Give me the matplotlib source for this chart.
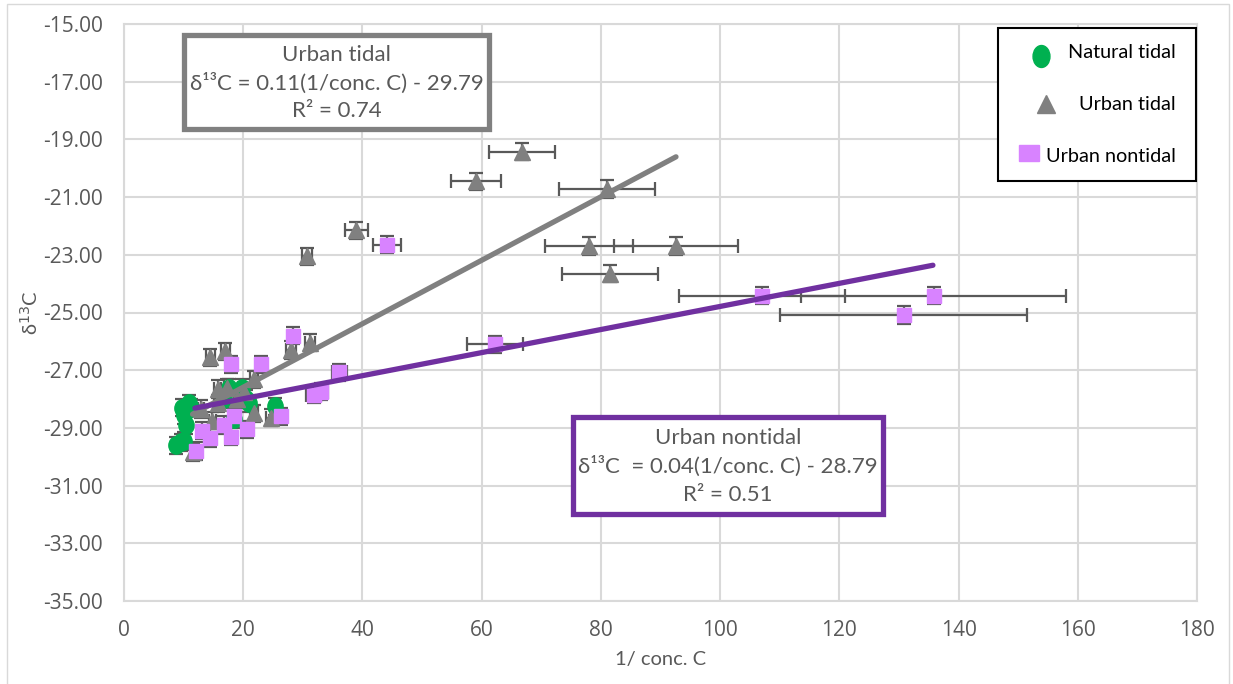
import matplotlib
matplotlib.use("Agg")
import matplotlib.pyplot as plt
from matplotlib.markers import MarkerStyle
from matplotlib.patches import Rectangle
from matplotlib.transforms import Affine2D


##### DATA #####

# Natural tidal marshes
natural_x    = [8.7, 10.1, 9.5, 9.8, 10.1, 10.9, 10.4, 11.2, 17.6, 19.8, 20.4, 20.9, 16.8, 25.4, 18.4]
natural_y    = [-29.6, -29.45, -29.5, -28.3, -28.55, -28.15, -28.9, -28.3,
                -27.6, -27.6, -28.0, -28.15, -28.0, -28.25, -28.7]
natural_xerr = [0.5, 0.5, 0.5, 0.5, 0.5, 0.5, 0.5, 0.5, 0.6, 0.6, 0.6, 0.6, 0.6, 0.7, 0.6]
natural_yerr = [0.3] * len(natural_x)

# Urban tidal marshes
urbtidal_x    = [14.5, 17.0, 28.0, 31.2, 30.7, 39.0, 59.0, 66.8, 81.0, 78.0, 92.6, 81.5,
                 21.8, 15.7, 17.3, 20.1, 21.8, 24.6, 14.8, 11.5, 15.7, 12.9, 19.0]
urbtidal_y    = [-26.55, -26.35, -26.3, -26.05, -23.05, -22.15, -20.45, -19.43, -20.72,
                 -22.7, -22.7, -23.65, -27.32, -27.65, -27.6, -27.75, -28.5, -28.65,
                 -28.75, -29.85, -28.15, -28.35, -28.0]
urbtidal_xerr = [0.8, 0.8, 0.8, 0.8, 0.8, 1.9, 4.2, 5.5, 8.0, 7.4, 10.4, 8.0,
                 0.7, 0.6, 0.6, 0.7, 0.7, 0.8, 0.6, 0.5, 0.6, 0.5, 0.6]
urbtidal_yerr = [0.3] * len(urbtidal_x)

# Urban nontidal marshes
urbnon_x    = [12.0, 13.1, 14.5, 16.8, 17.9, 18.4, 20.7, 26.3, 17.9, 22.9, 28.4,
               31.8, 33.0, 36.1, 44.1, 62.2, 107.0, 130.8, 135.8]
urbnon_y    = [-29.8, -29.1, -29.35, -28.9, -29.3, -28.6, -29.05, -28.6, -26.8, -26.8,
               -25.8, -27.85, -27.75, -27.07, -22.65, -26.1, -24.42, -25.09, -24.42]
urbnon_xerr = [0.6, 0.6, 0.6, 0.6, 0.7, 0.7, 0.8, 0.8, 0.7, 0.8, 0.8,
               1.2, 1.2, 1.25, 2.4, 4.65, 13.9, 20.7, 22.3]
urbnon_yerr = [0.3] * len(urbnon_x)

# Linear trendlines (slope, intercept, fitted x-range)
tidal_fit    = (0.11, -29.79, 11.5, 92.6)
nontidal_fit = (0.04, -28.79, 11.9, 135.7)

x_ticks = list(range(0, 181, 20))
y_ticks = [-35 + 2 * i for i in range(11)]
x_tick_labels = [str(v) for v in x_ticks]
y_tick_labels = [f"{v:.2f}" for v in y_ticks]


##### STYLE #####

W, H = 1233, 684
plt.rcParams['font.family'] = ['Lato', 'DejaVu Sans']
TICK_FONT = ['Open Sans', 'DejaVu Sans']

GREEN  = "#00b050"
GRAY   = "#808080"
PINK   = "#d883ff"
PURPLE = "#7030a0"
ERR    = "#595959"
TXT    = "#595959"
GRID   = "#d9d9d9"


def fx(px):
    return px / W


def fy(py):
    return 1 - py / H


fig = plt.figure(figsize=(W / 100, H / 100), dpi=100)
ax = fig.add_axes([fx(124), fy(601), fx(1197) - fx(124), fy(24) - fy(601)])

ax.set_xlim(0, 180)
ax.set_ylim(-35, -15)
ax.set_xticks(x_ticks, labels=x_tick_labels, fontfamily=TICK_FONT, fontsize=15)
ax.set_yticks(y_ticks, labels=y_tick_labels, fontfamily=TICK_FONT, fontsize=15)
ax.tick_params(axis="y", length=0, colors=TXT, pad=15)
ax.tick_params(axis="x", length=0, colors=TXT, pad=14)
ax.grid(True, color=GRID, lw=1.5)
ax.set_axisbelow(True)
for side, sp in ax.spines.items():
    sp.set_color(GRID)
    sp.set_linewidth(1.5)

ax.set_xlabel("1/ conc. C", fontsize=14.5, color=TXT)
ax.set_ylabel("δ$^{13}$C", fontsize=14.5, color=TXT)
ax.xaxis.set_label_coords(0.5, -0.087)
ax.yaxis.set_label_coords(-0.078, 0.5)

ellipse = MarkerStyle("o", transform=Affine2D().scale(0.88, 1.0))

err_kw = dict(ecolor=ERR, elinewidth=1.6, capsize=5, capthick=1.6, ls="none")

ax.errorbar(natural_x, natural_y, xerr=natural_xerr, yerr=natural_yerr,
            marker=ellipse, ms=12.5, mfc=GREEN, mec=GREEN, zorder=3, **err_kw)
ax.errorbar(urbtidal_x, urbtidal_y, xerr=urbtidal_xerr, yerr=urbtidal_yerr,
            marker="^", ms=11, mfc=GRAY, mec=GRAY, zorder=3, **err_kw)
ax.errorbar(urbnon_x, urbnon_y, xerr=urbnon_xerr, yerr=urbnon_yerr,
            marker="s", ms=10.5, mfc=PINK, mec=PINK, zorder=3, **err_kw)

# trendlines
for (m, b, x0, x1), col in [(tidal_fit, GRAY), (nontidal_fit, PURPLE)]:
    ax.plot([x0, x1], [m * x0 + b, m * x1 + b], color=col, lw=3.8,
            solid_capstyle="round", zorder=4)


##### EQUATION BOXES #####

def eq_box(x0, y0, x1, y1, col, lines, ys):
    fig.add_artist(Rectangle((fx(x0), fy(y1)), fx(x1) - fx(x0), fy(y0) - fy(y1),
                             transform=fig.transFigure, fc="white", ec=col, lw=3.8,
                             zorder=5))
    xc = (x0 + x1) / 2
    for s, py in zip(lines, ys):
        fig.text(fx(xc), fy(py), s, ha="center", va="center", fontsize=16,
                 color=TXT, zorder=6)


eq_box(184, 35, 489, 129, GRAY,
       ["Urban tidal", "δ¹³C = 0.11(1/conc. C) - 29.79", "R² = 0.74"],
       [55, 83, 111])
eq_box(573, 417, 883, 514, PURPLE,
       ["Urban nontidal", "δ¹³C  = 0.04(1/conc. C) - 28.79", "R² = 0.51"],
       [438, 466, 495])


##### LEGEND #####

fig.add_artist(Rectangle((fx(998), fy(181)), fx(1196) - fx(998), fy(28) - fy(181),
                         transform=fig.transFigure, fc="white", ec="black", lw=1.5,
                         zorder=5))
leg_ellipse = MarkerStyle("o", transform=Affine2D().scale(0.77, 1.0))
leg_square  = MarkerStyle("s", transform=Affine2D().scale(1.2, 1.0))
leg = [(1041, 56, leg_ellipse, 15.8, GREEN, "Natural tidal", 53),
       (1046, 104, "^", 12.5, GRAY, "Urban tidal", 105),
       (1029, 153, leg_square, 11.5, PINK, "Urban nontidal", 156)]
for mx, my, mk, ms, col, label, ty in leg:
    fig.add_artist(plt.Line2D([fx(mx)], [fy(my)], marker=mk, ms=ms, mfc=col, mec=col,
                              ls="none", transform=fig.transFigure, zorder=6))
    fig.text(fx(1176), fy(ty), label, ha="right", va="center", fontsize=14.3,
             color="black", zorder=6)

# outer chart border
fig.add_artist(Rectangle((fx(7), fy(690)), fx(1229) - fx(7), fy(4) - fy(690),
                         transform=fig.transFigure, fill=False, ec=GRID, lw=1))

fig.savefig("out.png", dpi=100)
